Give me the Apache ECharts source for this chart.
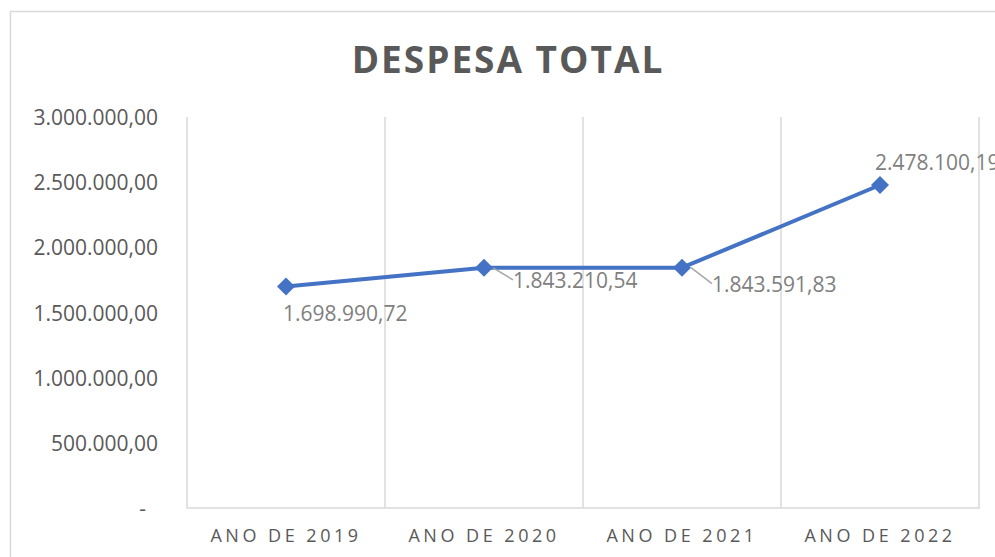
<!DOCTYPE html>
<html>
<head>
<meta charset="utf-8">
<script src="https://cdn.jsdelivr.net/npm/echarts@6/dist/echarts.min.js"></script>
<style>
html,body{margin:0;padding:0;background:#fff;}
#chart{width:995px;height:557px;}
#chart text[style*="18px"]{letter-spacing:3.5px;}
#chart text[style*="37px"]{letter-spacing:2px;}
</style>
</head>
<body>
<div id="chart"></div>
<script>
const titleText = 'DESPESA TOTAL';
const categories = ['ANO DE 2019', 'ANO DE 2020', 'ANO DE 2021', 'ANO DE 2022'];
const despesaTotal = [1698990.72, 1843210.54, 1843591.83, 2478100.19];
const yMin = 0, yMax = 3000000, yStep = 500000;
// label shifts relative to each point (dx, dy)
const labelShift = [[-3, 26], [29, 12], [30, 16], [-5, -23]];
const labelLineOn = [false, true, true, false];

function fmtBR(v) {
  const s = v.toFixed(2).split('.');
  return s[0].replace(/\B(?=(\d{3})+(?!\d))/g, '.') + ',' + s[1];
}

const chart = echarts.init(document.getElementById('chart'), null, { renderer: 'svg' });
chart.setOption({
  animation: false,
  backgroundColor: '#fff',
  graphic: [{
    type: 'rect', silent: true,
    shape: { x: 10.5, y: 11.5, width: 1000, height: 600 },
    style: { fill: 'none', stroke: '#d9d9d9', lineWidth: 1.5 }
  }],
  title: {
    text: titleText,
    left: 503, top: 35, textAlign: 'center',
    textStyle: { fontFamily: 'Open Sans', fontWeight: 'bold', fontSize: 37, color: '#595959' }
  },
  grid: { left: 187, right: 16, top: 117, bottom: 49, containLabel: false },
  xAxis: {
    type: 'category', data: categories, boundaryGap: true,
    axisLine: { show: true, lineStyle: { color: '#d9d9d9', width: 1.5 } },
    axisTick: { show: false },
    splitLine: { show: true, lineStyle: { color: '#d9d9d9', width: 1.5 } },
    axisLabel: { margin: 18, color: '#595959', fontFamily: 'Open Sans', fontSize: 18 }
  },
  yAxis: {
    type: 'value', min: yMin, max: yMax, interval: yStep,
    axisLine: { show: false }, axisTick: { show: false }, splitLine: { show: false },
    axisLabel: {
      margin: 29, color: '#595959', fontFamily: 'Open Sans', fontSize: 21,
      formatter: v => v === 0 ? '{z|-}' : fmtBR(v),
      rich: { z: { padding: [0, 12, 0, 0], color: '#595959', fontFamily: 'Open Sans', fontSize: 21 } }
    }
  },
  series: [{
    type: 'line',
    data: despesaTotal.map((v, i) => ({
      value: v,
      labelLine: { show: labelLineOn[i] }
    })),
    symbol: 'diamond', symbolSize: 18,
    lineStyle: { color: '#4472C4', width: 4 },
    itemStyle: { color: '#4472C4' },
    label: {
      show: true, position: 'inside', align: 'left', verticalAlign: 'middle',
      color: '#7f7f7f', fontFamily: 'Open Sans', fontSize: 21,
      formatter: p => fmtBR(p.value)
    },
    labelLayout: p => ({ dx: labelShift[p.dataIndex][0], dy: labelShift[p.dataIndex][1] }),
    labelLine: { lineStyle: { color: '#a6a6a6', width: 1.5 }, length2: 0 }
  }]
});
</script>
</body>
</html>
